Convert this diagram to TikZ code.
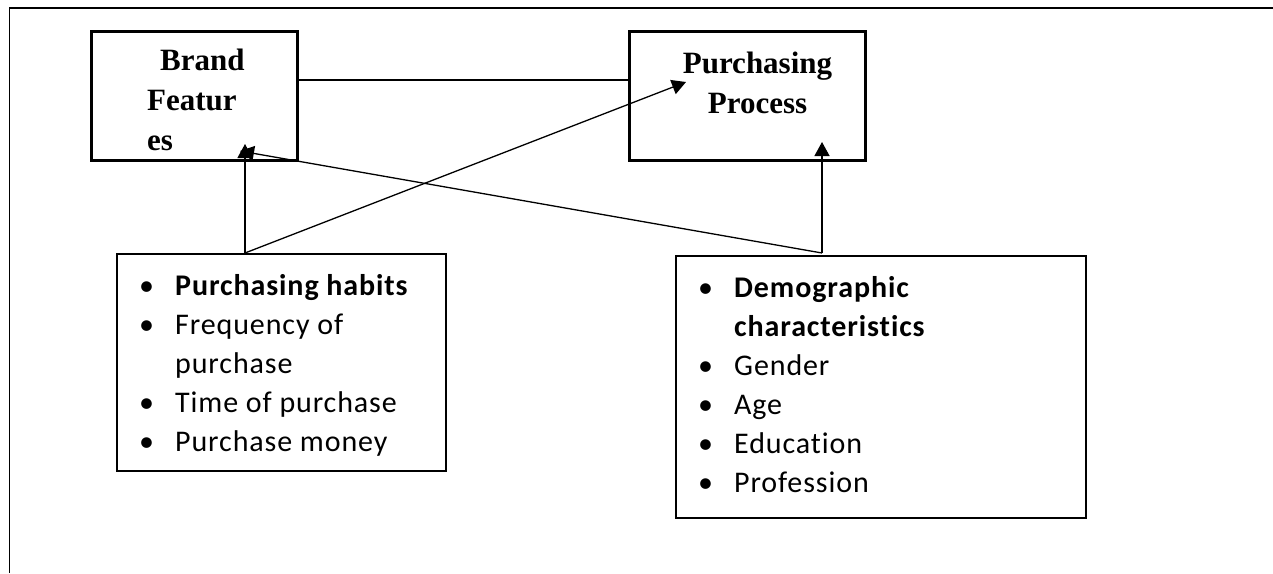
\documentclass[tikz,border=0pt]{standalone}
\usepackage{fontspec}
\setmainfont{Liberation Serif}
\newfontfamily\listfont[Ligatures=NoCommon, LetterSpace=3]{Carlito}
\usetikzlibrary{arrows.meta}
\newcommand{\bul}[1]{\makebox[36pt][l]{\textbullet}#1}
\begin{document}
\begin{tikzpicture}[x=1pt, y=-1pt,
    topbox/.style={draw, rectangle, line width=3.3pt, inner sep=0pt},
    listbox/.style={draw, rectangle, line width=2.4pt, inner sep=0pt},
    toptext/.style={inner sep=0pt, font=\fontsize{31}{40}\selectfont\bfseries},
    listtext/.style={inner sep=0pt, font=\listfont\fontsize{30}{39}\selectfont},
    link/.style={line width=1.3pt},
    arr/.style={line width=1.3pt, -{Triangle[length=14pt, width=15pt]}}]
\useasboundingbox (0,0) rectangle (1273,573);
% page frame
\draw[line width=1.6pt] (1273,8) -- (9,8);
\draw[line width=1pt] (9,8) -- (9,573);

% boxes
\node[topbox, minimum width=206pt, minimum height=129pt] (brand) at (194.5,96) {};
\node[topbox, minimum width=236pt, minimum height=129pt] (process) at (747.5,96) {};
\node[listbox, minimum width=329pt, minimum height=217pt] (habits) at (281.5,362.5) {};
\node[listbox, minimum width=410pt, minimum height=262pt] (demo) at (881,387) {};

% box texts
\node[toptext, anchor=base west] (brandname) at (147,70.7)
    {\begin{tabular}[t]{@{}l@{}}\hspace{13pt}Brand\\Featur\\es\end{tabular}};
\node[toptext, anchor=base] (processname) at (757.5,73)
    {\begin{tabular}[t]{@{}c@{}}Purchasing\\Process\end{tabular}};
\node[listtext, anchor=base west] (habitsitems) at (139,295)
    {\begin{tabular}[t]{@{}l@{}}
     \bul{\textbf{Purchasing habits}}\\
     \bul{Frequency of}\\
     \hspace{36pt}purchase\\
     \bul{Time of purchase}\\
     \bul{Purchase money}
     \end{tabular}};
\node[listtext, anchor=base west] (demoitems) at (698,297)
    {\begin{tabular}[t]{@{}l@{}}
     \bul{\textbf{Demographic}}\\
     \hspace{36pt}\textbf{characteristics}\\
     \bul{Gender}\\
     \bul{Age}\\
     \bul{Education}\\
     \bul{Profession}
     \end{tabular}};

% line ends
\coordinate (habitsout) at (245,253);
\coordinate (demoout) at (822,253);
\coordinate (brandin) at (245,144);
\coordinate (brandside) at (240,151);
\coordinate (processin) at (686,82);
\coordinate (processbot) at (822,142);

\draw[link] ([yshift=16pt]brand.east) -- ([yshift=16pt]process.west);
\foreach \from/\to in {habitsout/brandin, habitsout/processin, demoout/brandside, demoout/processbot}
    \draw[arr] (\from) -- (\to);
\end{tikzpicture}
\end{document}
